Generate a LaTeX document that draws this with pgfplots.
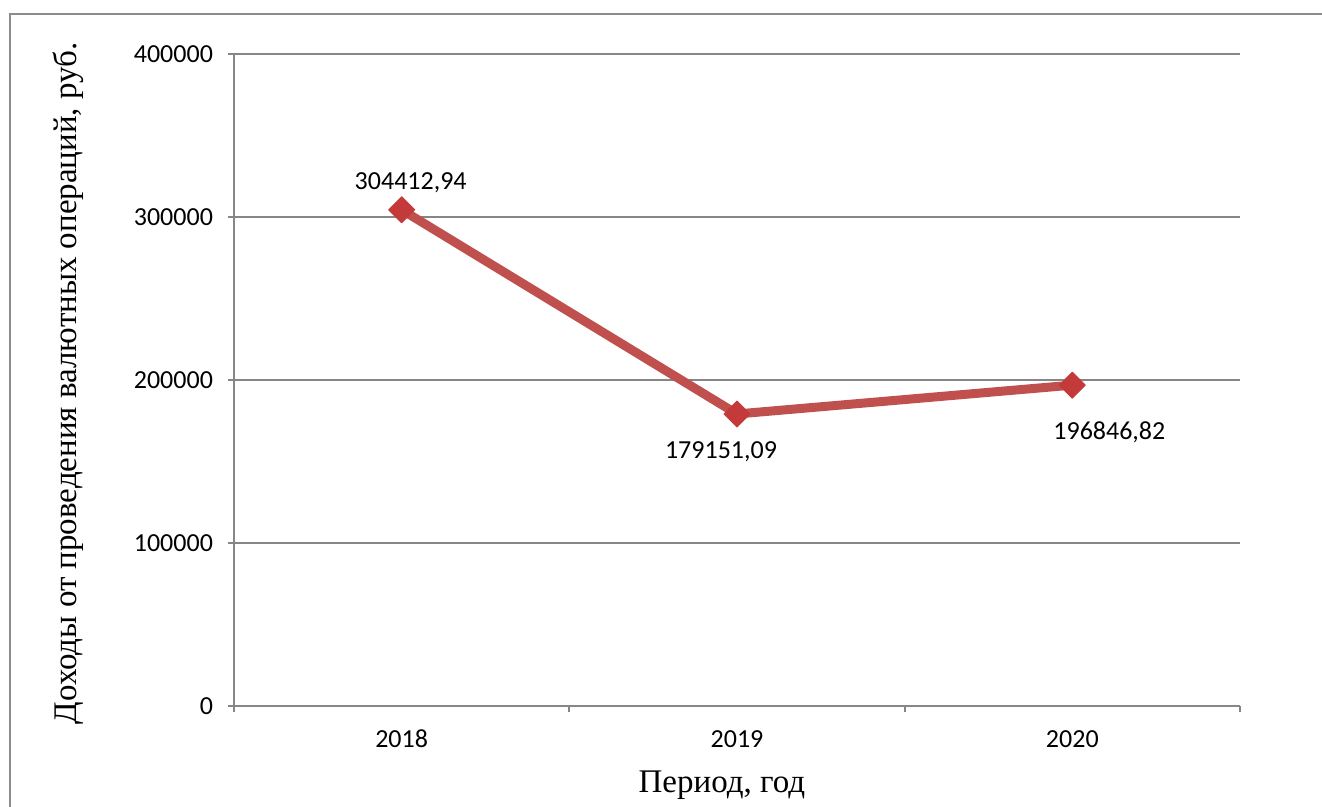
\documentclass[border=0pt]{standalone}
\usepackage{pgfplots}
\pgfplotsset{compat=1.18}
\usepackage{fontspec}
\setmainfont{Liberation Serif}
\newfontfamily\carlito{Carlito}

\definecolor{framegray}{RGB}{140,140,140}
\definecolor{gridgray}{RGB}{134,134,134}
\definecolor{linered}{RGB}{192,80,77}
\definecolor{markred}{RGB}{196,58,58}

\begin{document}
\begin{tikzpicture}[x=1pt,y=1pt]
  % page size and the chart frame (left and top edges)
  \path[use as bounding box] (0,0) rectangle (661,403.5);
  \draw[framegray, line width=1pt] (5,0) -- (5,396.5) -- (661,396.5);

  \begin{axis}[
    at={(117pt,50.5pt)}, anchor=south west,
    scale only axis,
    width=503pt, height=326pt,
    xmin=-0.5, xmax=2.5,
    ymin=0, ymax=400000,
    xtick={0,1,2},
    xticklabels={2018,2019,2020},
    extra x ticks={-0.5,0.5,1.5,2.5},
    extra x tick labels={},
    extra x tick style={major tick length=3pt, grid=none},
    ytick={0,100000,200000,300000,400000},
    scaled y ticks=false,
    /pgf/number format/fixed,
    /pgf/number format/precision=0,
    /pgf/number format/1000 sep={},
    /pgf/number format/assume math mode=true,
    axis x line*=bottom,
    axis y line*=left,
    axis line style={gridgray, line width=1pt, -},
    tick align=outside,
    x tick style={draw=none},
    y tick style={gridgray, line width=1pt},
    every extra x tick/.style={x tick style={draw=gridgray, line width=1pt}},
    major tick length=3pt,
    ymajorgrids,
    major grid style={gridgray, line width=0.8pt},
    tick label style={font=\carlito\fontsize{13}{15}\selectfont},
    yticklabel style={anchor=east, xshift=-4pt},
    xticklabel style={anchor=center, yshift=-13.5pt},
    xlabel={Период, год},
    ylabel={Доходы от проведения валютных операций, руб.},
    label style={font=\fontsize{16.5}{19}\selectfont},
    xlabel style={at={(rel axis cs:0.485,-0.132)}, anchor=base},
    ylabel style={at={(rel axis cs:-0.157,0.495)}, anchor=base, rotate=0},
    clip=false,
  ]
    \addplot[color=linered, line width=4.5pt, line join=round,
             mark=square*, mark size=4.6pt,
             mark options={rotate=45, fill=markred, draw=markred, line width=0.5pt}]
      coordinates {(0,304412.94) (1,179151.09) (2,196846.82)};

    \node[font=\carlito\fontsize{13}{15}\selectfont, anchor=center, xshift=4.5pt, yshift=13.5pt]
      at (axis cs:0,304412.94) {304412,94};
    \node[font=\carlito\fontsize{13}{15}\selectfont, anchor=center, xshift=-8pt, yshift=-19pt]
      at (axis cs:1,179151.09) {179151,09};
    \node[font=\carlito\fontsize{13}{15}\selectfont, anchor=center, xshift=18.5pt, yshift=-23.5pt]
      at (axis cs:2,196846.82) {196846,82};
  \end{axis}
\end{tikzpicture}
\end{document}
